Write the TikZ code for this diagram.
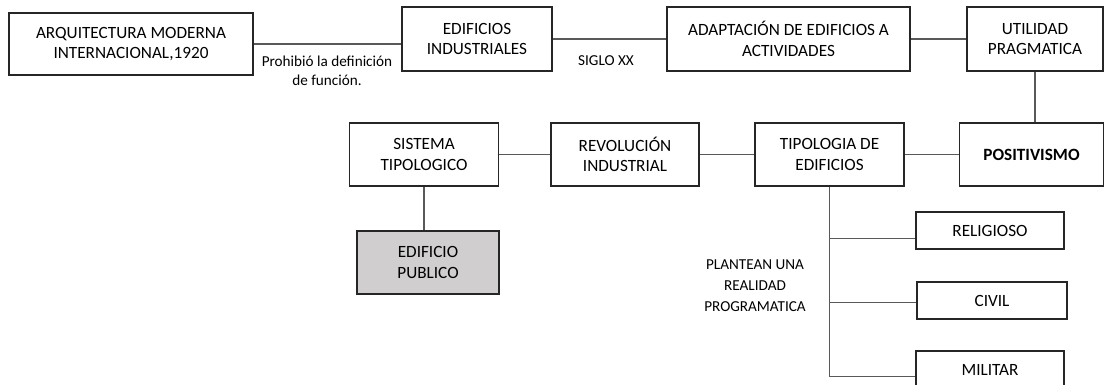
\documentclass[tikz,border=0pt]{standalone}
\usepackage{fontspec}
\setmainfont{Carlito}
\usepackage{xcolor}
\usepackage{tikz}
\usetikzlibrary{positioning}
\newcommand{\boxfont}{\fontsize{12.9}{15.6}\selectfont}
\newcommand{\lblfont}{\fontsize{11.4}{14.3}\selectfont}
\definecolor{publico}{HTML}{D0CECE}

\begin{document}
\begin{tikzpicture}[x=0.75pt, y=-0.75pt,
    box/.style={rectangle, draw=black!85, line width=1.4pt, align=center, inner sep=0pt, text=black, font=\boxfont, minimum height=48pt},
    lbl/.style={align=center, inner sep=0pt, text=black, font=\lblfont},
    link/.style={draw=black!65, line width=0.8pt}]
    \useasboundingbox (0,0) rectangle (1106,385);

    \node [box, minimum width=183pt, minimum height=46.5pt] (arq) at (131,44) {ARQUITECTURA MODERNA\\INTERNACIONAL,1920};
    \node [box, minimum width=112.5pt] (edif) at (477,39) {EDIFICIOS\\INDUSTRIALES};
    \node [box, minimum width=182.25pt, right of=edif, node distance=233.6pt] (adapt) {ADAPTACIÓN DE EDIFICIOS A\\ACTIVIDADES};
    \node [box, minimum width=102pt, right of=adapt, node distance=184.9pt] (util) {UTILIDAD\\PRAGMATICA};
    \node [box, minimum width=108pt, minimum height=47.25pt, below of=util, node distance=86.6pt, xshift=-2.6pt] (pos) {\textbf{POSITIVISMO}};
    \node [box, minimum width=111.75pt, minimum height=47.25pt, left of=pos, node distance=151.5pt] (tip) {TIPOLOGIA DE\\EDIFICIOS};
    \node [box, minimum width=111pt, minimum height=47.25pt, left of=tip, node distance=153.4pt] (rev) {REVOLUCIÓN\\INDUSTRIAL};
    \node [box, minimum width=111.75pt, minimum height=47.25pt, left of=rev, node distance=150.75pt] (sis) {SISTEMA\\TIPOLOGICO};
    \node [box, fill=publico, minimum width=106.5pt, minimum height=47.25pt, below of=sis, node distance=81pt, xshift=3pt] (pub) {EDIFICIO\\PUBLICO};
    \node [box, minimum width=111pt, minimum height=27.75pt] (rel) at (990,230.5) {RELIGIOSO};
    \node [box, minimum width=112.5pt, minimum height=27.75pt] (civ) at (992,300.5) {CIVIL};
    \node [box, minimum width=111pt, minimum height=27.75pt] (mil) at (990,369.5) {MILITAR};

    \node [lbl] (prohibio) at (327,70.5) {Prohibió la definición\\de función.};
    \node [lbl] (siglo) at (606,61) {SIGLO XX};
    \node [lbl, font=\fontsize{11.4}{15.7}\selectfont] (plantean) at (755,286) {PLANTEAN UNA\\REALIDAD\\PROGRAMATICA};

    \path (tip.south) ++(0,52) coordinate (b1);
    \path (tip.south) ++(0,116) coordinate (b2);
    \path (tip.south) ++(0,190) coordinate (b3);

    \draw [link] (arq.east) -- (arq.east -| edif.west);
    \draw [link] (edif) -- (adapt);
    \draw [link] (adapt) -- (util);
    \draw [link] (util.south) -- (util.south |- pos.north);
    \draw [link] (tip) -- (pos);
    \draw [link] (rev) -- (tip);
    \draw [link] (sis) -- (rev);
    \draw [link] (sis.south) -- (sis.south |- pub.north);
    \draw [link] (tip.south) -- (b3);
    \draw [link] (b1) -- (b1 -| rel.west);
    \draw [link] (b2) -- (b2 -| civ.west);
    \draw [link] (b3) -- (b3 -| mil.west);
\end{tikzpicture}
\end{document}
